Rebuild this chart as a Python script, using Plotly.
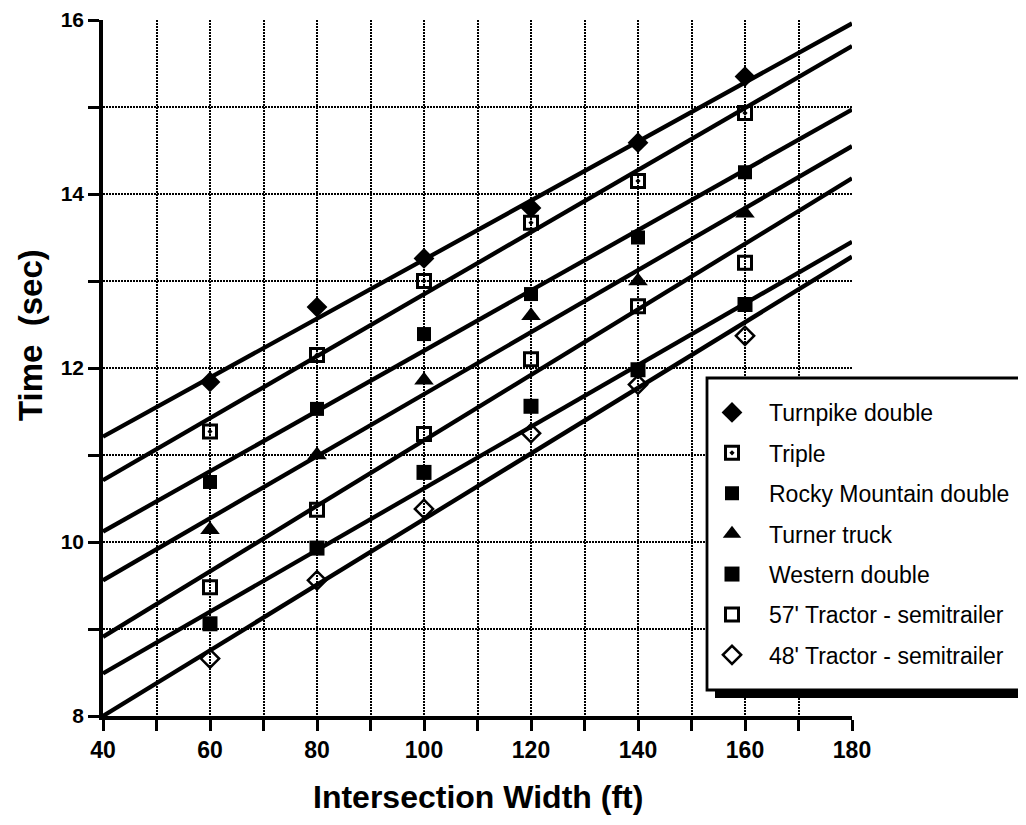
import plotly.graph_objects as go

# ---------------- data ----------------
widths = [60, 80, 100, 120, 140, 160]

series_names = [
    "Turnpike double",
    "Triple",
    "Rocky Mountain double",
    "Turner truck",
    "Western double",
    "57' Tractor - semitrailer",
    "48' Tractor - semitrailer",
]

turnpike_double = [11.84, 12.70, 13.26, 13.84, 14.59, 15.35]
triple = [11.27, 12.15, 13.00, 13.67, 14.15, 14.93]
rocky_mountain_double = [10.69, 11.53, 12.39, 12.85, 13.50, 14.25]
turner_truck = [10.14, 11.00, 11.86, 12.60, 13.00, 13.78]
western_double = [9.06, 9.93, 10.80, 11.56, 11.98, 12.73]
tractor_57 = [9.48, 10.37, 11.24, 12.10, 12.71, 13.21]
tractor_48 = [8.66, 9.56, 10.38, 11.25, 11.81, 12.37]

# fitted lines, values at the ends of the axis (x = 40 and x = 180)
line_x = [40, 180]
turnpike_double_fit = [11.21, 15.96]
triple_fit = [10.71, 15.70]
rocky_mountain_double_fit = [10.12, 14.97]
turner_truck_fit = [9.56, 14.55]
western_double_fit = [8.49, 13.45]
tractor_57_fit = [8.91, 14.18]
tractor_48_fit = [8.00, 13.28]

x_tick_vals = [40, 60, 80, 100, 120, 140, 160, 180]
y_tick_vals = [8, 10, 12, 14, 16]

x_title = "Intersection Width (ft)"
y_title = "Time\u00a0\u00a0(sec)"

# ---------------- styles ----------------
points = [turnpike_double, triple, rocky_mountain_double, turner_truck,
          western_double, tractor_57, tractor_48]
fits = [turnpike_double_fit, triple_fit, rocky_mountain_double_fit,
        turner_truck_fit, western_double_fit, tractor_57_fit, tractor_48_fit]
marker_styles = [
    dict(symbol="diamond", size=16, color="black", line=dict(width=0)),
    dict(symbol="square-open-dot", size=13, color="black", line=dict(width=3)),
    dict(symbol="square", size=14, color="black", line=dict(width=0)),
    dict(symbol="triangle-up", size=17, color="black", line=dict(width=0)),
    dict(symbol="square", size=15, color="black", line=dict(width=0)),
    dict(symbol="square-open", size=13, color="black", line=dict(width=3)),
    dict(symbol="diamond-open", size=14, color="black", line=dict(width=2.5)),
]

FONT = "Liberation Sans, Arial, Helvetica, sans-serif"

# the page body has an 8px margin; layout is expressed in window pixels
OFF = 8
FIG_W, FIG_H = 1026 - OFF, 825 - OFF
# plot area in window pixels: x 103 -> 852, y 20 -> 716
WL, WR, WT, WB = 103, 852, 20, 716
L = WL - OFF
T = WT - OFF
R = FIG_W - (WR - OFF)
B = FIG_H - (WB - OFF)
PW = WR - WL
PH = WB - WT


def px_x(w):
    return (w - WL) / PW


def px_y(w):
    return (WB - w) / PH


fig = go.Figure()

# regression lines (no legend)
for fit in fits:
    fig.add_trace(go.Scatter(
        x=line_x, y=fit, mode="lines",
        line=dict(color="black", width=4.3),
        showlegend=False, hoverinfo="skip",
    ))

# data points
for i, (name, ys, ms) in enumerate(zip(series_names, points, marker_styles)):
    fig.add_trace(go.Scatter(
        x=widths, y=ys, mode="markers", name=name,
        marker=ms, legendgroup=f"g{i}", cliponaxis=False,
    ))

grid_dash = "2px,1px"
GRID_C = "#000"
GRID_W = 2.3

fig.update_xaxes(
    range=[40, 180],
    tickvals=x_tick_vals,
    ticks="outside", ticklen=11, tickwidth=2.5, tickcolor="black",
    showline=True, linecolor="black", linewidth=3.5, mirror=False,
    showgrid=True, gridcolor=GRID_C, gridwidth=GRID_W, griddash=grid_dash,
    minor=dict(dtick=10, ticks="outside", ticklen=11, tickwidth=2.5, tickcolor="black",
               showgrid=True, gridcolor=GRID_C, gridwidth=GRID_W, griddash=grid_dash),
    zeroline=False, automargin=False,
    tickfont=dict(family=FONT, size=23, color="black", weight="bold"),
)
fig.update_yaxes(
    range=[8, 16],
    tickvals=y_tick_vals,
    ticks="outside", ticklen=11, tickwidth=2.5, tickcolor="black",
    showline=True, linecolor="black", linewidth=3.5, mirror=False,
    showgrid=True, gridcolor=GRID_C, gridwidth=GRID_W, griddash=grid_dash,
    minor=dict(dtick=1, ticks="outside", ticklen=11, tickwidth=2.5, tickcolor="black",
               showgrid=True, gridcolor=GRID_C, gridwidth=GRID_W, griddash=grid_dash),
    zeroline=False, automargin=False,
    tickfont=dict(family=FONT, size=21, color="black", weight="bold"),
)

# axis titles
fig.add_annotation(
    text=y_title, textangle=-90, showarrow=False,
    xref="paper", yref="paper", x=px_x(30), y=px_y(335),
    xanchor="center", yanchor="middle",
    font=dict(family=FONT, size=33, color="black", weight="bold"),
)
fig.add_annotation(
    text=x_title, showarrow=False,
    xref="paper", yref="paper", x=px_x(478), y=px_y(797),
    xanchor="center", yanchor="middle",
    font=dict(family=FONT, size=32, color="black", weight="bold"),
)

# legend frame with drop shadow
fig.add_shape(
    type="rect", xref="paper", yref="paper",
    x0=px_x(715), x1=px_x(1040), y0=px_y(386), y1=px_y(698),
    fillcolor="black", line=dict(width=0), layer="above",
)
fig.add_shape(
    type="rect", xref="paper", yref="paper",
    x0=px_x(707), x1=px_x(1025), y0=px_y(378), y1=px_y(690),
    fillcolor="white", line=dict(color="black", width=2.8), layer="above",
)

fig.update_layout(
    width=FIG_W, height=FIG_H,
    margin=dict(l=L, r=R, t=T, b=B, autoexpand=False),
    paper_bgcolor="white", plot_bgcolor="white",
    showlegend=True,
    legend=dict(
        x=px_x(695), y=px_y(391), xanchor="left", yanchor="top",
        bgcolor="rgba(0,0,0,0)", borderwidth=0,
        font=dict(family=FONT, size=23, color="black"),
        tracegroupgap=7.5, itemwidth=64,
    ),
)

fig.write_html("out.html")
